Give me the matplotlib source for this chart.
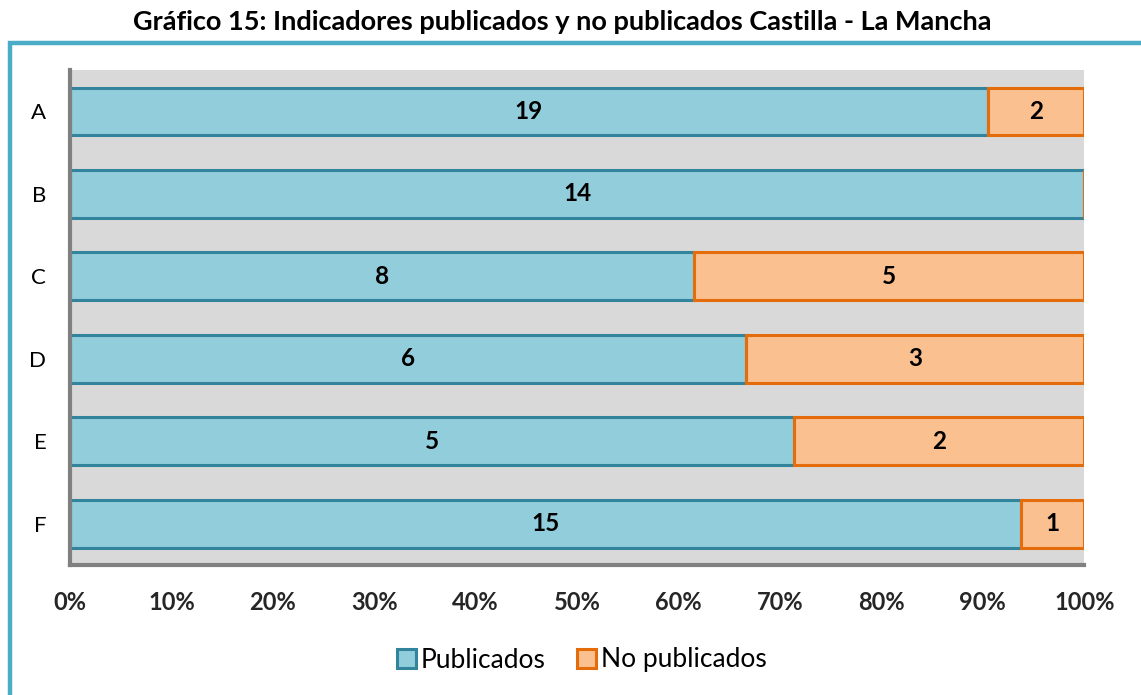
import matplotlib.pyplot as plt
from matplotlib.lines import Line2D
from matplotlib.patches import Patch

plt.rcParams['font.family'] = ['Lato', 'DejaVu Sans']

categorias = ['A', 'B', 'C', 'D', 'E', 'F']
publicados = [19, 14, 8, 6, 5, 15]
no_publicados = [2, 0, 5, 3, 2, 1]
ticks = [0, 10, 20, 30, 40, 50, 60, 70, 80, 90, 100]

AZUL, AZUL_BORDE = '#92CDDC', '#31849B'
NARANJA, NARANJA_BORDE = '#FAC090', '#E46C0A'

totales = [p + n for p, n in zip(publicados, no_publicados)]
pct_pub = [100 * p / t for p, t in zip(publicados, totales)]
pct_no = [100 * n / t for n, t in zip(no_publicados, totales)]

fig = plt.figure(figsize=(11.41, 6.95), dpi=100)
ax = fig.add_axes([0.0613, 0.187, 0.889, 0.712])
ax.set_facecolor('#D9D9D9')

y = list(range(len(categorias)))
b1 = ax.barh(y, pct_pub, height=0.58, color=AZUL, edgecolor=AZUL_BORDE, linewidth=2.2)
b2 = ax.barh(y, pct_no, left=pct_pub, height=0.58, color=NARANJA, edgecolor=NARANJA_BORDE, linewidth=2.2)
ax.bar_label(b1, labels=[str(v) for v in publicados], label_type='center',
             fontsize=17.5, fontweight='bold', color='black')
ax.bar_label(b2, labels=[str(v) if v else '' for v in no_publicados], label_type='center',
             fontsize=17.5, fontweight='bold', color='black')

ax.set_ylim(len(categorias) - 0.5, -0.5)
ax.set_xlim(0, 100)
ax.set_yticks(y)
ax.set_yticklabels(categorias, fontsize=16)
ax.set_xticks(ticks)
ax.set_xticklabels([f'{t}%' for t in ticks], fontsize=17, fontweight='bold', color='#262626')
ax.tick_params(axis='y', length=0, pad=17)
ax.tick_params(axis='x', length=0, pad=19)
for s in ['top', 'right']:
    ax.spines[s].set_visible(False)
for s in ['left', 'bottom']:
    ax.spines[s].set_color('#808080')
    ax.spines[s].set_linewidth(3)

# marco
fx = 9.5 / 1141
fy = 1 - 42.5 / 695
fig.add_artist(Line2D([fx, fx, 1], [0, fy, fy], color='#4BACC6', linewidth=3.2,
                      transform=fig.transFigure, solid_joinstyle='miter'))

fig.text(562 / 1141, 1 - 22 / 695, 'Gráfico 15: Indicadores publicados y no publicados Castilla - La Mancha',
         ha='center', va='center', fontsize=19.5, fontweight='bold')

handles = [Patch(facecolor=AZUL, edgecolor=AZUL_BORDE, linewidth=2.2),
           Patch(facecolor=NARANJA, edgecolor=NARANJA_BORDE, linewidth=2.2)]
fig.legend(handles, ['Publicados', 'No publicados'], loc='center', bbox_to_anchor=(582 / 1141, 1 - 660 / 695),
           ncol=2, frameon=False, fontsize=19, handlelength=0.7, handleheight=0.7,
           handletextpad=0.2, columnspacing=1.2)

fig.savefig('out.png', dpi=100)
